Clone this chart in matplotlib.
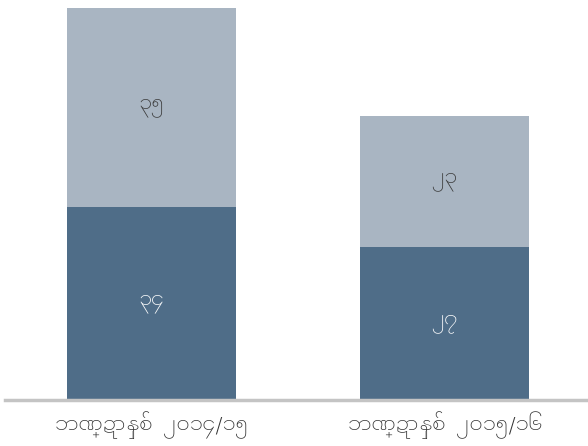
import matplotlib
matplotlib.use("Agg")
import matplotlib.pyplot as plt

# data
categories = ["ဘဏ္ဍာနှစ်  ၂၀၁၄/၁၅", "ဘဏ္ဍာနှစ်  ၂၀၁၅/၁၆"]
lower = [34, 27]
upper = [35, 23]
lower_labels = ["၃၄", "၂၇"]
upper_labels = ["၃၅", "၂၃"]

plt.rcParams['font.family'] = ['Noto Sans Myanmar UI', 'Myanmar Sans Pro', 'DejaVu Sans']

dark = "#4f6d88"
light = "#a9b5c2"

fig = plt.figure(figsize=(5.88, 4.46), dpi=100)
ax = fig.add_axes([5 / 588, 46 / 446, 583 / 588, 400 / 446])

x = list(range(len(categories)))
ax.bar(x, lower, width=0.577, color=dark)
ax.bar(x, upper, width=0.577, bottom=lower, color=light)

for i in x:
    ax.text(i, lower[i] / 2, lower_labels[i], ha="center", va="center",
            color="white", fontsize=15, fontweight="light")
    ax.text(i, lower[i] + upper[i] / 2, upper_labels[i], ha="center", va="center",
            color="#3a3a3a", fontsize=15, fontweight="light")

ax.set_xlim(-0.5, 1.49)
ax.set_ylim(0, 69 * 400 / 392)
ax.set_xticks(x)
ax.set_xticklabels(categories, fontsize=15, color="#333333", fontweight="light")
ax.tick_params(axis="x", length=0, pad=8)
ax.set_yticks([])
for s in ["top", "right", "left"]:
    ax.spines[s].set_visible(False)
ax.spines["bottom"].set_color("#c4c4c4")
ax.spines["bottom"].set_linewidth(2.5)

fig.savefig("out.png", dpi=100)
